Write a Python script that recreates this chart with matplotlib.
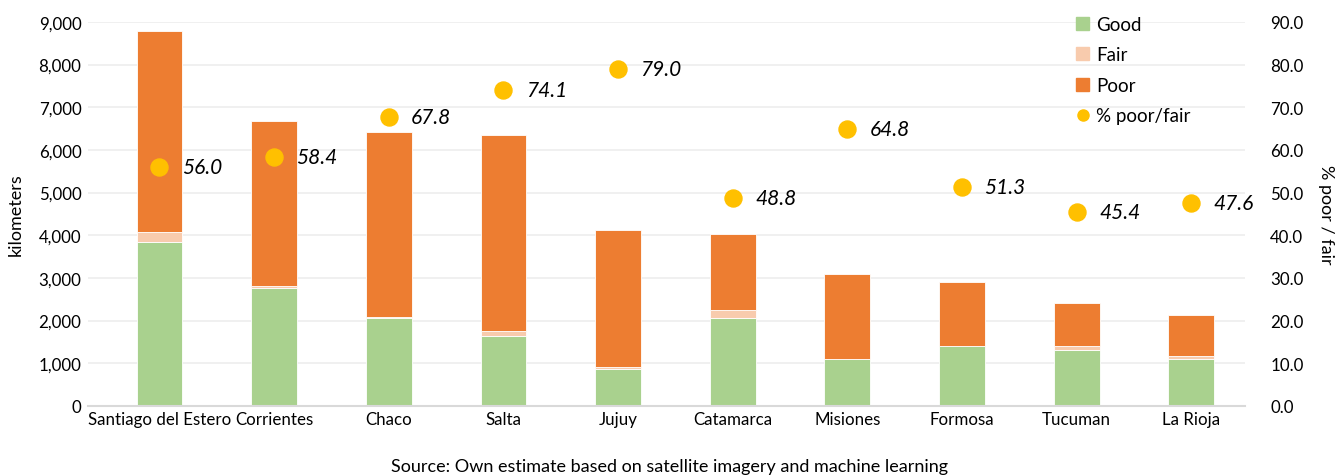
import numpy as np
import matplotlib.pyplot as plt
from matplotlib.ticker import FuncFormatter
from matplotlib.lines import Line2D
from matplotlib.patches import Patch

plt.rcParams['font.family'] = ['Lato', 'DejaVu Sans']

provinces = ['Santiago del Estero', 'Corrientes', 'Chaco', 'Salta', 'Jujuy',
             'Catamarca', 'Misiones', 'Formosa', 'Tucuman', 'La Rioja']
good = [3850, 2770, 2060, 1640, 870, 2050, 1100, 1400, 1300, 1110]
fair = [230, 30, 20, 110, 40, 190, 10, 10, 110, 60]
poor = [4700, 3880, 4340, 4600, 3210, 1790, 1980, 1490, 990, 960]
pct_poor_fair = [56.0, 58.4, 67.8, 74.1, 79.0, 48.8, 64.8, 51.3, 45.4, 47.6]

c_good = '#a9d18e'
c_fair = '#f8cbad'
c_poor = '#ed7d31'
c_pct = '#ffc000'

fig = plt.figure(figsize=(13.39, 4.77), dpi=100)
ax = fig.add_axes([0.066, 0.147, 0.864, 0.805])
x = np.arange(len(provinces))
w = 0.4

good = np.array(good)
fair = np.array(fair)
poor = np.array(poor)
ax.bar(x, good, w, color=c_good, edgecolor='white', linewidth=0.6, zorder=2)
ax.bar(x, fair, w, bottom=good, color=c_fair, edgecolor='white', linewidth=0.6, zorder=2)
ax.bar(x, poor, w, bottom=good + fair, color=c_poor, edgecolor='white', linewidth=0.6, zorder=2)

ax.set_ylim(0, 9000)
ax.set_yticks(np.arange(0, 9001, 1000))
ax.yaxis.set_major_formatter(FuncFormatter(lambda v, p: f'{int(v):,}'))
ax.set_xlim(-0.62, 9.47)
ax.set_xticks(x)
ax.set_xticklabels(provinces)
ax.grid(axis='y', color='#eeeeee', linewidth=1.2, zorder=0)
ax.set_axisbelow(True)
for s in ['top', 'right', 'left']:
    ax.spines[s].set_visible(False)
ax.spines['bottom'].set_color('#d9d9d9')
ax.spines['bottom'].set_linewidth(1.5)
ax.tick_params(axis='both', length=0, labelsize=12.2, colors='#000000')
ax.tick_params(axis='y', pad=5)
ax.set_ylabel('kilometers', fontsize=13)
ax.yaxis.set_label_coords(-0.056, 0.5)

ax2 = ax.twinx()
ax2.set_ylim(0, 90)
ax2.set_yticks(np.arange(0, 91, 10))
ax2.yaxis.set_major_formatter(FuncFormatter(lambda v, p: f'{v:.1f}'))
for s in ax2.spines.values():
    s.set_visible(False)
ax2.tick_params(axis='y', length=0, labelsize=12.2, pad=18)
ax2.set_ylabel('% poor / fair', fontsize=13, rotation=270, labelpad=22)

ax2.scatter(x, pct_poor_fair, s=150, color=c_pct, zorder=4)
for xi, v in zip(x, pct_poor_fair):
    ax2.annotate(f'{v:.1f}', (xi, v), xytext=(16, 0), textcoords='offset points',
                 va='center', ha='left', fontsize=15, style='italic')

handles = [Patch(color=c_good, label='Good'),
           Patch(color=c_fair, label='Fair'),
           Patch(color=c_poor, label='Poor'),
           Line2D([], [], marker='o', linestyle='', color=c_pct, markersize=8,
                  label='% poor/fair')]
ax2.legend(handles=handles, loc='upper right', bbox_to_anchor=(0.967, 1.06),
           frameon=False, fontsize=13.5, handlelength=0.7, handleheight=0.7,
           handletextpad=0.35, labelspacing=0.72)

fig.text(0.5, 0.004, 'Source: Own estimate based on satellite imagery and machine learning',
         ha='center', va='bottom', fontsize=13)

fig.savefig('out.png', dpi=100)
